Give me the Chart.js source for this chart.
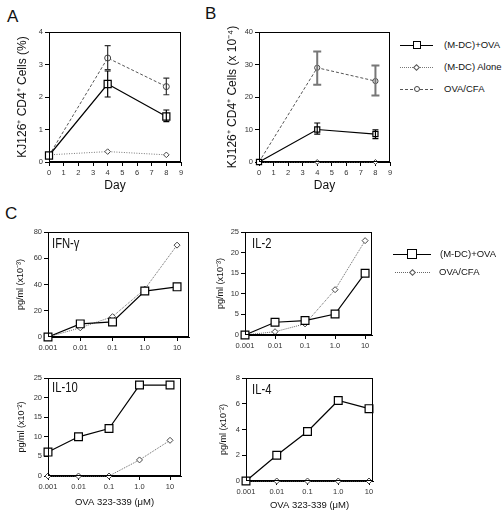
<!DOCTYPE html>
<html>
<head>
<meta charset="utf-8">
<script src="https://cdn.jsdelivr.net/npm/chart.js@4/dist/chart.umd.min.js"></script>
<style>
  body { margin: 0; background: #fff; width: 504px; height: 515px; position: relative; overflow: hidden;
         font-family: "Liberation Sans", Arial, sans-serif; color: #111; }
  canvas { position: absolute; }
  .big { position: absolute; font-size: 17px; line-height: 17px; }
  .inner { position: absolute; font-size: 15px; line-height: 15px; transform: scaleX(0.75); transform-origin: left top; }
  .tx { position: absolute; font-size: 9.5px; line-height: 12px; white-space: nowrap; }
  .ln { position: absolute; height: 0; }
  .sq { position: absolute; background: #fff; border: 1.2px solid #000; box-sizing: border-box; }
  .dm { position: absolute; width: 5px; height: 5px; background: #fff; border: 1px solid #555; transform: rotate(45deg); box-sizing: border-box; }
  .ci { position: absolute; width: 6px; height: 6px; background: #fff; border: 1px solid #444; border-radius: 50%; box-sizing: border-box; }
</style>
</head>
<body>
<div class="big" style="left:7px;top:8px">A</div>
<div class="big" style="left:205px;top:5px">B</div>
<div class="big" style="left:5px;top:205px">C</div>

<canvas id="chartA"></canvas>
<canvas id="chartB"></canvas>
<canvas id="chartIFN"></canvas>
<canvas id="chartIL2"></canvas>
<canvas id="chartIL10"></canvas>
<canvas id="chartIL4"></canvas>

<div class="inner" style="left:52px;top:235px">IFN-γ</div>
<div class="inner" style="left:252px;top:235px">IL-2</div>
<div class="inner" style="left:52px;top:379px">IL-10</div>
<div class="inner" style="left:252px;top:381px">IL-4</div>

<!-- legend A/B -->
<div class="ln" style="left:400px;top:45px;width:33px;border-top:1.2px solid #000"></div>
<div class="sq" style="left:413px;top:41px;width:8px;height:8px"></div>
<div class="tx" style="left:444px;top:39px">(M-DC)+OVA</div>
<div class="ln" style="left:400px;top:67px;width:33px;border-top:1px dotted #777"></div>
<div class="dm" style="left:414px;top:64.5px"></div>
<div class="tx" style="left:444px;top:61px">(M-DC) Alone</div>
<div class="ln" style="left:400px;top:89px;width:33px;border-top:1px dashed #555"></div>
<div class="ci" style="left:414px;top:86px"></div>
<div class="tx" style="left:444px;top:83px">OVA/CFA</div>

<!-- legend C -->
<div class="ln" style="left:393px;top:254px;width:38px;border-top:1.2px solid #000"></div>
<div class="sq" style="left:407px;top:249px;width:10px;height:10px"></div>
<div class="tx" style="left:440px;top:248px">(M-DC)+OVA</div>
<div class="ln" style="left:395px;top:272px;width:35px;border-top:1px dotted #666"></div>
<div class="dm" style="left:410px;top:269.5px"></div>
<div class="tx" style="left:439px;top:266px">OVA/CFA</div>

<script>
// ---- data ----
const days = [0, 4, 8];

// panel A: KJ126+ CD4+ cells (%)
const aMdcOva = [0.2, 2.4, 1.4];
const aMdcOvaHi = [null, 2.8, 1.6];
const aMdcOvaLo = [null, 2.0, 1.24];
const aMdcAlone = [0.22, 0.32, 0.22];
const aOvaCfa = [0.2, 3.2, 2.32];
const aOvaCfaHi = [null, 3.58, 2.58];
const aOvaCfaLo = [null, 2.84, 2.07];

// panel B: KJ126+ CD4+ cells (x 10^-4)
const bMdcOva = [0, 10, 8.6];
const bMdcOvaHi = [null, 12, 9.9];
const bMdcOvaLo = [null, 8.6, 7.2];
const bMdcAlone = [0, 0, 0];
const bOvaCfa = [0, 29, 24.9];
const bOvaCfaHi = [null, 34, 29.7];
const bOvaCfaLo = [null, 23.8, 20.5];

// panel C: cytokines vs OVA 323-339 dose
const doses = ["0.001", "0.01", "0.1", "1.0", "10"];
const ifnMdcOva = [0, 10, 11.5, 35, 38.2];
const ifnOvaCfa = [0, 7, 15.5, 36.5, 70];
const il2MdcOva = [0, 3.1, 3.5, 5.1, 15];
const il2OvaCfa = [0, 0.8, 2.7, 11, 22.9];
const il10MdcOva = [6.1, 10, 12.1, 23.2, 23.2];
const il10OvaCfa = [0, 0, 0, 4.1, 9.1];
const il4MdcOva = [0, 2, 3.85, 6.25, 5.62];
const il4OvaCfa = [0, 0, 0, 0, 0];

Chart.defaults.font.family = "'Liberation Sans', Arial, sans-serif";
Chart.defaults.color = "#222";

const frame = {
  id: "frame",
  afterDraw(chart) {
    const a = chart.chartArea, ctx = chart.ctx;
    ctx.save();
    ctx.strokeStyle = "#000";
    ctx.lineWidth = 1;
    ctx.strokeRect(Math.round(a.left) + 0.5, Math.round(a.top) + 0.5,
                   Math.round(a.right - a.left) - 1, Math.round(a.bottom - a.top) - 1);
    ctx.restore();
  }
};

const errorBars = {
  id: "errorBars",
  afterDatasetsDraw(chart) {
    const ctx = chart.ctx, xs = chart.scales.x, ys = chart.scales.y;
    chart.data.datasets.forEach((ds) => {
      if (!ds.errHi) return;
      ctx.save();
      ctx.strokeStyle = ds.errColor || "#000";
      ctx.lineWidth = ds.errWidth || 1.2;
      ds.data.forEach((p, j) => {
        if (ds.errHi[j] == null) return;
        const px = xs.getPixelForValue(p.x);
        const hi = ys.getPixelForValue(ds.errHi[j]);
        const lo = ys.getPixelForValue(ds.errLo[j]);
        const c = ds.capW || 3;
        ctx.beginPath();
        ctx.moveTo(px, hi); ctx.lineTo(px, lo);
        ctx.moveTo(px - c, hi); ctx.lineTo(px + c, hi);
        ctx.moveTo(px - c, lo); ctx.lineTo(px + c, lo);
        ctx.stroke();
      });
      ctx.restore();
    });
  }
};

function pts(xv, yv) {
  return yv.map((v, i) => ({ x: xv[i], y: v }));
}
const idx = doses.map((d, i) => i);

function makeChart(id, g, datasets, xo, yo) {
  const c = document.getElementById(id);
  c.style.left = g.left + "px";
  c.style.top = g.top + "px";
  c.width = g.w;
  c.height = g.h;
  return new Chart(c, {
    type: "line",
    data: { datasets: datasets },
    options: {
      responsive: false,
      animation: false,
      devicePixelRatio: 1,
      layout: { padding: { top: g.pt - g.top, right: g.left + g.w - g.pr, left: 0, bottom: 0 } },
      plugins: { legend: { display: false }, tooltip: { enabled: false } },
      scales: {
        x: {
          type: "linear", min: xo.min, max: xo.max,
          afterFit(s) { s.height = g.top + g.h - g.pb; },
          ticks: { stepSize: 1, autoSkip: false, includeBounds: false, maxRotation: 0,
                   font: { size: 7.5 }, padding: 2, color: "#333", callback: xo.cb },
          grid: { drawOnChartArea: false, tickLength: 4, color: "#000" },
          border: { color: "#000" },
          title: xo.title ? { display: true, text: xo.title, color: "#111",
                              font: { size: xo.ts }, padding: { top: 0, bottom: xo.tp } } : { display: false }
        },
        y: {
          min: 0, max: yo.max,
          afterFit(s) { s.width = g.pl - g.left; },
          ticks: { stepSize: yo.step, font: { size: 7.5 }, padding: 2, color: "#333" },
          grid: { drawOnChartArea: false, tickLength: 4, color: "#000" },
          border: { color: "#000" },
          title: { display: true, text: yo.title, color: "#111",
                   font: { size: yo.ts }, padding: { top: yo.tp, bottom: 0 } }
        }
      }
    },
    plugins: [frame, errorBars]
  });
}

function solidSet(data, r, extra) {
  return Object.assign({ data: data, borderColor: "#000", borderWidth: 1.2, pointStyle: "rect",
    pointRadius: r, pointBorderWidth: 1.2, pointBorderColor: "#000", pointBackgroundColor: "#fff",
    clip: false, tension: 0 }, extra || {});
}
function dotSet(data, style, r, color, dash, extra) {
  return Object.assign({ data: data, borderColor: color, borderWidth: 1, borderDash: dash, pointStyle: style,
    pointRadius: r, pointBorderWidth: 1, pointBorderColor: "#444", pointBackgroundColor: "#fff",
    clip: false, tension: 0 }, extra || {});
}

// panel A
makeChart("chartA", { left: 0, top: 20, w: 195, h: 180, pl: 49, pt: 32, pr: 181, pb: 162 }, [
  solidSet(pts(days, aMdcOva), 5, { errHi: aMdcOvaHi, errLo: aMdcOvaLo }),
  dotSet(pts(days, aMdcAlone), "rectRot", 2.8, "#777", [1, 1.5]),
  dotSet(pts(days, aOvaCfa), "circle", 3, "#555", [3, 2], { errHi: aOvaCfaHi, errLo: aOvaCfaLo, errColor: "#333" })
], { min: 0, max: 9, title: "Day", ts: 12, tp: 6.8 },
   { max: 4, step: 1, title: "KJ126⁺ CD4⁺ Cells (%)", ts: 12, tp: 15.5 });

// panel B
makeChart("chartB", { left: 200, top: 20, w: 200, h: 180, pl: 259, pt: 32, pr: 390, pb: 162 }, [
  solidSet(pts(days, bMdcOva), 3.6, { errHi: bMdcOvaHi, errLo: bMdcOvaLo }),
  dotSet(pts(days, bMdcAlone), "rectRot", 2.5, "#777", [1, 1.5]),
  dotSet(pts(days, bOvaCfa), "circle", 2.6, "#555", [3, 2], { errHi: bOvaCfaHi, errLo: bOvaCfaLo, errColor: "#777", errWidth: 2, capW: 4 })
], { min: 0, max: 9, title: "Day", ts: 12, tp: 6.8 },
   { max: 40, step: 10, title: "KJ126⁺ CD4⁺ Cells (x 10⁻⁴)", ts: 12, tp: 25 });

const doseLabel = (v) => doses[v] !== undefined ? doses[v] : "";

// panel C
makeChart("chartIFN", { left: 0, top: 222, w: 200, h: 140, pl: 48, pt: 232, pr: 189, pb: 337 }, [
  solidSet(pts(idx, ifnMdcOva), 5.5),
  dotSet(pts(idx, ifnOvaCfa), "rectRot", 3, "#666", [1, 1])
], { min: 0, max: 4.37, cb: doseLabel },
   { max: 80, step: 20, title: "pg/ml (x10⁻³)", ts: 9, tp: 15.6 });

makeChart("chartIL2", { left: 200, top: 222, w: 180, h: 140, pl: 245, pt: 232, pr: 372, pb: 335 }, [
  solidSet(pts(idx, il2MdcOva), 5.5),
  dotSet(pts(idx, il2OvaCfa), "rectRot", 3, "#666", [1, 1])
], { min: 0, max: 4.23, cb: doseLabel },
   { max: 25, step: 5, title: "pg/ml (x10⁻³)", ts: 9, tp: 15.6 });

makeChart("chartIL10", { left: 0, top: 365, w: 200, h: 150, pl: 48, pt: 378, pr: 181, pb: 476 }, [
  solidSet(pts(idx, il10MdcOva), 5.5),
  dotSet(pts(idx, il10OvaCfa), "rectRot", 3, "#666", [1, 1])
], { min: 0, max: 4.36, cb: doseLabel, title: "OVA 323-339 (μM)", ts: 9.5, tp: 7.3 },
   { max: 25, step: 5, title: "pg/ml (x10⁻²)", ts: 9, tp: 16.6 });

makeChart("chartIL4", { left: 200, top: 365, w: 180, h: 150, pl: 246, pt: 378, pr: 373, pb: 481 }, [
  solidSet(pts(idx, il4MdcOva), 5.5),
  dotSet(pts(idx, il4OvaCfa), "rectRot", 3, "#666", [1, 1])
], { min: 0, max: 4.13, cb: doseLabel, title: "OVA 323-339 (μM)", ts: 9.5, tp: 4.3 },
   { max: 8, step: 2, title: "pg/ml (x10⁻²)", ts: 9, tp: 18.6 });
</script>
</body>
</html>
